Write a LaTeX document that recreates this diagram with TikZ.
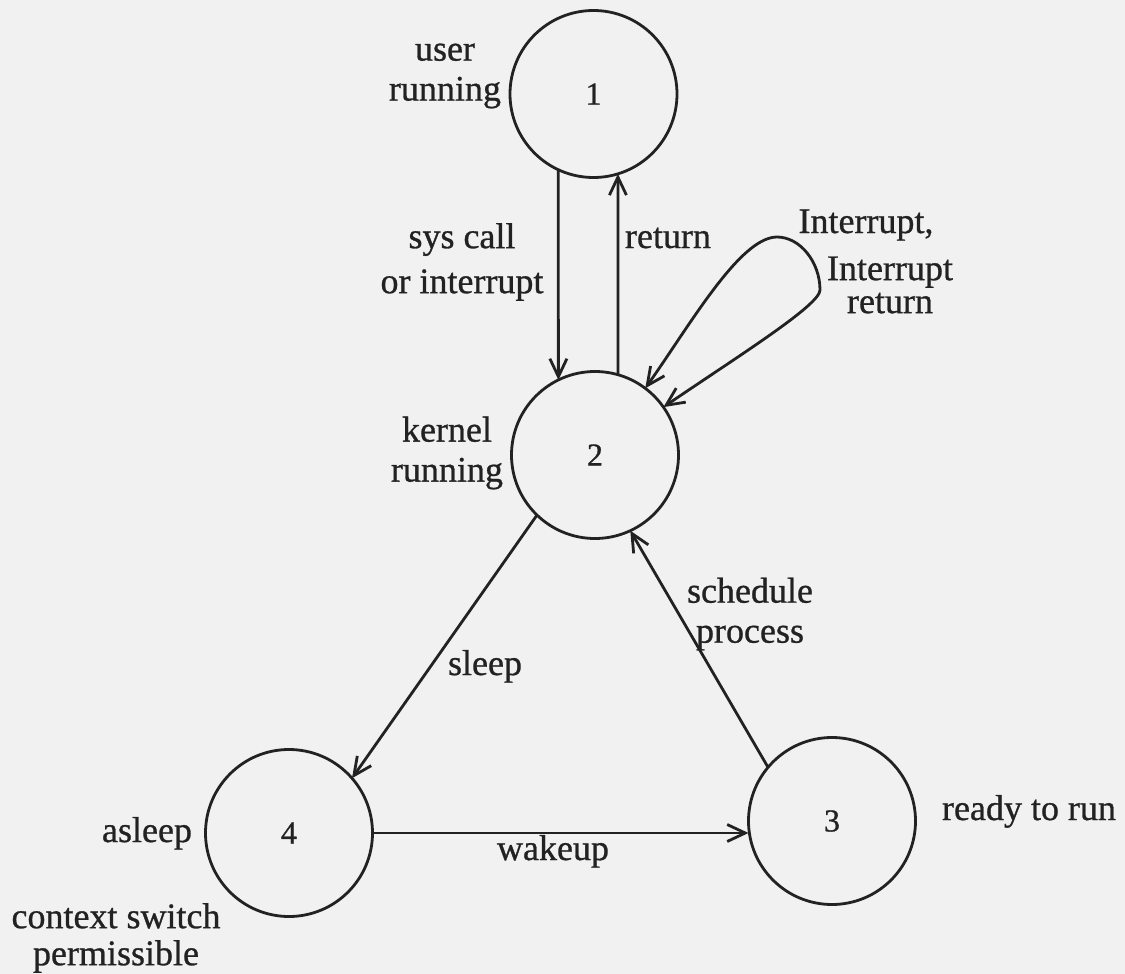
\documentclass[tikz,border=0pt]{standalone}
\usepackage{fontspec}
\setmainfont{Liberation Serif}[FakeBold=0.8]
\usetikzlibrary{arrows.meta}
\definecolor{ink}{HTML}{222222}
\definecolor{paper}{HTML}{F1F1F1}
\begin{document}
\begin{tikzpicture}[x=1pt,y=-1pt,
  state/.style={circle,draw=ink,line width=2.8pt,minimum size=167pt,inner sep=0pt,outer sep=0pt,
    font=\fontsize{32}{34}\selectfont,text=ink},
  lbl/.style={font=\fontsize{36}{40}\selectfont,text=ink,inner sep=0pt,align=center},
  arr/.style={line width=2.8pt,draw=ink,-{Straight Barb[length=18pt,width=17pt]}},
  arrboth/.style={line width=2.8pt,draw=ink,{Straight Barb[length=18pt,width=17pt]}-{Straight Barb[length=18pt,width=17pt]}}]
\fill[paper] (0,0) rectangle (1125,974);
\useasboundingbox (0,0) rectangle (1125,974);

% states
\node[state] (1) at (593.5,94) {1};
\node[state] (2) at (595,455) {2};
\node[state] (3) at (832,821) {3};
\node[state] (4) at (289,833) {4};

% state labels
\node[lbl] (l1) at (445,76) {user\\running};
\node[lbl] (l2) at (447,453) {kernel\\running};
\node[lbl,anchor=base] (l3) at (1029,820) {ready to run};
\node[lbl,anchor=base] (l4) at (147,842) {asleep};
\node[lbl,font=\fontsize{36}{37}\selectfont] (l5) at (116,938) {context switch\\permissible};

% transitions
\draw[arr] (1.-115) -- (2.116);
\draw[arr] (2.74) -- (1.-73);
\draw[arr] (2.-134) -- (4.41);
\draw[arr] (3.140) -- (2.-65);
\draw[arr] (4.east) -- (4.east -| 3.west);
\draw[arrboth] (2.53) .. controls (690,325) and (740,237) .. (777,237)
  .. controls (800,237) and (820,262) .. (820,290)
  .. controls (820,305) and (740,355) .. (2.35);

% transition labels
\node[lbl,font=\fontsize{36}{45}\selectfont] (t1) at (462,262) {sys call\\or interrupt};
\node[lbl,anchor=base] (t2) at (668,248) {return};
\node[lbl,anchor=base] (t3) at (866,233) {Interrupt,};
\node[lbl,font=\fontsize{36}{33}\selectfont] (t4) at (890,285) {Interrupt\\return};
\node[lbl,anchor=base] (t5) at (485,675) {sleep};
\node[lbl,font=\fontsize{36}{40}\selectfont] (t6) at (750,614) {schedule\\process};
\node[lbl,anchor=base] (t7) at (553,860) {wakeup};
\end{tikzpicture}
\end{document}
